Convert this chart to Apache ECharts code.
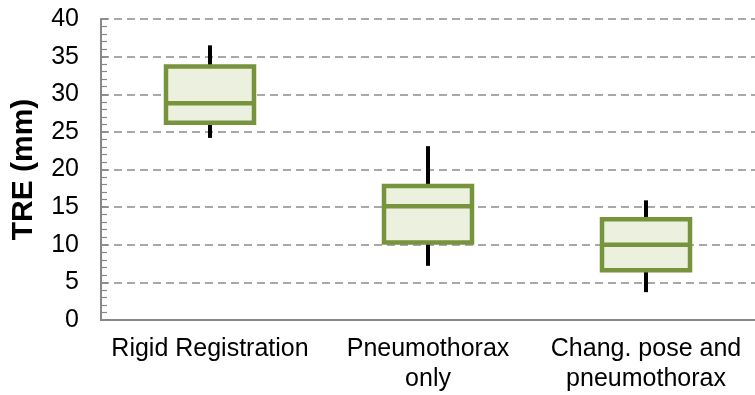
<!DOCTYPE html>
<html>
<head>
<meta charset="utf-8">
<script src="https://cdn.jsdelivr.net/npm/echarts@6/dist/echarts.min.js"></script>
<style>
  html, body { margin: 0; padding: 0; background: #fff; }
  #chart { width: 755px; height: 395px; }
</style>
</head>
<body>
<div id="chart"></div>
<script>
// box plot values (mm)
var categories = ['Rigid Registration', 'Pneumothorax\nonly', 'Chang. pose and\npneumothorax'];
var whiskerMin = [24.2, 7.2, 3.7];
var q1 = [26.2, 10.3, 6.6];
var median = [28.8, 15.1, 10.0];
var q3 = [33.7, 17.8, 13.4];
var whiskerMax = [36.5, 23.1, 15.9];

var boxData = [];
var whiskerData = [];
for (var i = 0; i < categories.length; i++) {
  // whiskers drawn separately (black, no caps), so collapse them here
  boxData.push([q1[i], q1[i], median[i], q3[i], q3[i]]);
  whiskerData.push([i, whiskerMin[i], q1[i], q3[i], whiskerMax[i]]);
}

var chart = echarts.init(document.getElementById('chart'));
var option = {
  animation: false,
  grid: { left: 101, right: -6, top: 19, bottom: 75 },
  xAxis: {
    type: 'category',
    data: categories,
    axisLine: { lineStyle: { color: '#878787', width: 2 } },
    axisTick: { show: false },
    axisLabel: {
      interval: 0,
      color: '#000',
      fontFamily: 'Liberation Sans, Arial, sans-serif',
      fontSize: 25,
      lineHeight: 30,
      margin: 14
    }
  },
  yAxis: {
    type: 'value',
    min: 0,
    max: 40,
    interval: 5,
    name: 'TRE (mm)',
    nameLocation: 'middle',
    nameRotate: 90,
    nameGap: 62,
    nameTextStyle: {
      color: '#000',
      fontFamily: 'Liberation Sans, Arial, sans-serif',
      fontSize: 30,
      fontWeight: 'bold'
    },
    axisLine: { show: true, lineStyle: { color: '#878787', width: 2 } },
    axisTick: { show: true, inside: true, length: 7, lineStyle: { color: '#878787', width: 1.5 } },
    minorTick: { show: true, splitNumber: 5, length: 6, lineStyle: { color: '#878787', width: 1.2 } },
    axisLabel: {
      color: '#000',
      fontFamily: 'Liberation Sans, Arial, sans-serif',
      fontSize: 25,
      margin: 22
    },
    splitLine: {
      show: true,
      lineStyle: { color: '#8c8c8c', width: 1.5, type: [8, 5] }
    }
  },
  series: [
    {
      type: 'custom',
      z: 1,
      data: whiskerData,
      renderItem: function (params, api) {
        var x = api.value(0);
        var lo = api.coord([x, api.value(1)]);
        var b = api.coord([x, api.value(2)]);
        var t = api.coord([x, api.value(3)]);
        var hi = api.coord([x, api.value(4)]);
        var style = { stroke: '#000', lineWidth: 4 };
        return {
          type: 'group',
          children: [
            { type: 'line', shape: { x1: t[0], y1: t[1], x2: hi[0], y2: hi[1] }, style: style },
            { type: 'line', shape: { x1: lo[0], y1: lo[1], x2: b[0], y2: b[1] }, style: style }
          ]
        };
      }
    },
    {
      type: 'boxplot',
      z: 2,
      data: boxData,
      boxWidth: [88, 88],
      itemStyle: { color: '#EBF1DE', borderColor: '#77933C', borderWidth: 4.5 },
      emphasis: { disabled: true }
    }
  ]
};
chart.setOption(option);
</script>
</body>
</html>
